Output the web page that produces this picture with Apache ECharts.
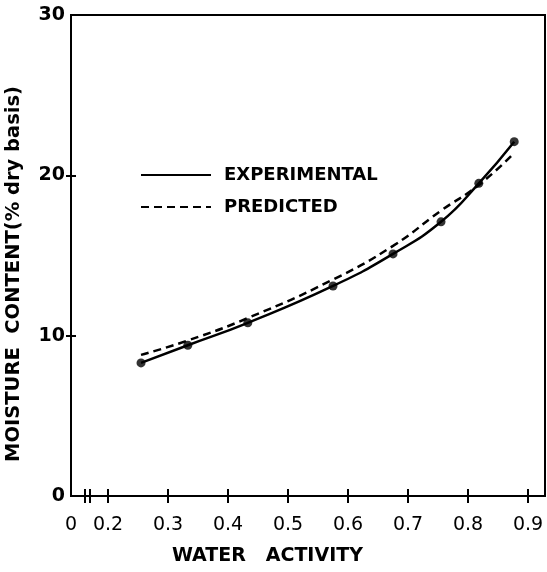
<!DOCTYPE html>
<html>
<head>
<meta charset="utf-8">
<script src="https://cdn.jsdelivr.net/npm/echarts@6/dist/echarts.min.js"></script>
<style>html,body{margin:0;padding:0;background:#fff;}#c{width:547px;height:572px;}</style>
</head>
<body>
<div id="c"></div>
<script>
// Data
var waterActivity = [0.255, 0.333, 0.433, 0.575, 0.675, 0.755, 0.818, 0.877];
var experimental  = [8.3, 9.4, 10.8, 13.1, 15.1, 17.1, 19.5, 22.1];
var predicted     = [8.8, 9.7, 11.1, 13.5, 15.6, 17.8, 19.4, 21.4];
var xTickValues   = [0.2, 0.3, 0.4, 0.5, 0.6, 0.7, 0.8, 0.9];
var xBreakValues  = [0.162, 0.17];
var yTickValues   = [10, 20];
var yLabelValues  = [0, 10, 20, 30];
var xMin = 0.1383, xMax = 0.9283;

var expPairs = waterActivity.map(function (a, i) { return [a, experimental[i]]; });
var predPairs = waterActivity.map(function (a, i) { return [a, predicted[i]]; });

var FONT = 'DejaVu Sans';
var chart = echarts.init(document.getElementById('c'), null, {renderer: 'canvas'});
chart.setOption({
  animation: false,
  backgroundColor: '#fff',
  grid: {left: 71, right: 2, top: 15, bottom: 76, show: true, borderColor: '#000', borderWidth: 2},
  legend: {
    orient: 'vertical', left: 140, top: 166, padding: 0, itemWidth: 70, itemHeight: 14, itemGap: 14,
    itemStyle: {opacity: 0},
    lineStyle: {width: 2},
    textStyle: {fontFamily: FONT, fontWeight: 'bold', fontSize: 18, color: '#000', padding: [0, 0, 0, 8]},
    data: ['EXPERIMENTAL', 'PREDICTED']
  },
  xAxis: [{
    type: 'value', min: xMin, max: xMax, position: 'bottom',
    axisLine: {show: true, lineStyle: {color: '#000', width: 2}},
    axisTick: {show: true, inside: false, length: 7, lineStyle: {color: '#000', width: 2},
      customValues: xBreakValues.concat(xTickValues)},
    axisLabel: {show: true, margin: 20, fontFamily: FONT, fontSize: 19, color: '#000',
      customValues: [xMin].concat(xTickValues), showMinLabel: true, showMaxLabel: true,
      formatter: function (v) { return v < 0.19 ? '0' : v.toFixed(1); }},
    splitLine: {show: false}
  }, {
    type: 'value', min: xMin, max: xMax, position: 'bottom', offset: 0,
    axisLine: {show: false},
    axisTick: {show: true, inside: true, length: 7, lineStyle: {color: '#000', width: 2},
      customValues: xBreakValues.concat(xTickValues)},
    axisLabel: {show: false},
    splitLine: {show: false}
  }],
  yAxis: [{
    type: 'value', min: 0, max: 30, interval: 10, position: 'left',
    axisLine: {show: true, lineStyle: {color: '#000', width: 2}},
    axisTick: {show: true, inside: false, length: 5, lineStyle: {color: '#000', width: 2}, customValues: yTickValues},
    axisLabel: {show: true, margin: 6, fontFamily: FONT, fontWeight: 'bold', fontSize: 19, color: '#000',
      customValues: yLabelValues},
    splitLine: {show: false}
  }, {
    type: 'value', min: 0, max: 30, interval: 10, position: 'left', offset: 0,
    axisLine: {show: false},
    axisTick: {show: true, inside: true, length: 5, lineStyle: {color: '#000', width: 2}, customValues: yTickValues},
    axisLabel: {show: false},
    splitLine: {show: false}
  }],
  graphic: [
    {type: 'text', left: 172, top: 547, style: {text: 'WATER   ACTIVITY', fontFamily: FONT, fontWeight: 'bold', fontSize: 19, fill: '#000'}},
    {type: 'text', left: 4, top: 86, rotation: Math.PI / 2, originX: 0, originY: 0,
      style: {text: 'MOISTURE  CONTENT(% dry basis)', fontFamily: FONT, fontWeight: 'bold', fontSize: 19.5, fill: '#000'}}
  ],
  series: [{
    name: 'EXPERIMENTAL', type: 'line', data: expPairs, smooth: 0.5,
    symbol: 'none',
    itemStyle: {color: '#000'}, lineStyle: {color: '#000', width: 2.5, type: 'solid'}
  }, {
    name: 'PREDICTED', type: 'line', data: predPairs, smooth: 0.5,
    symbol: 'none',
    itemStyle: {color: '#000'}, lineStyle: {color: '#000', width: 2.5, type: [8, 5]}
  }, {
    name: 'points', type: 'scatter', data: expPairs, symbol: 'circle', symbolSize: 9,
    itemStyle: {color: '#000'}
  }]
});
</script>
</body>
</html>
